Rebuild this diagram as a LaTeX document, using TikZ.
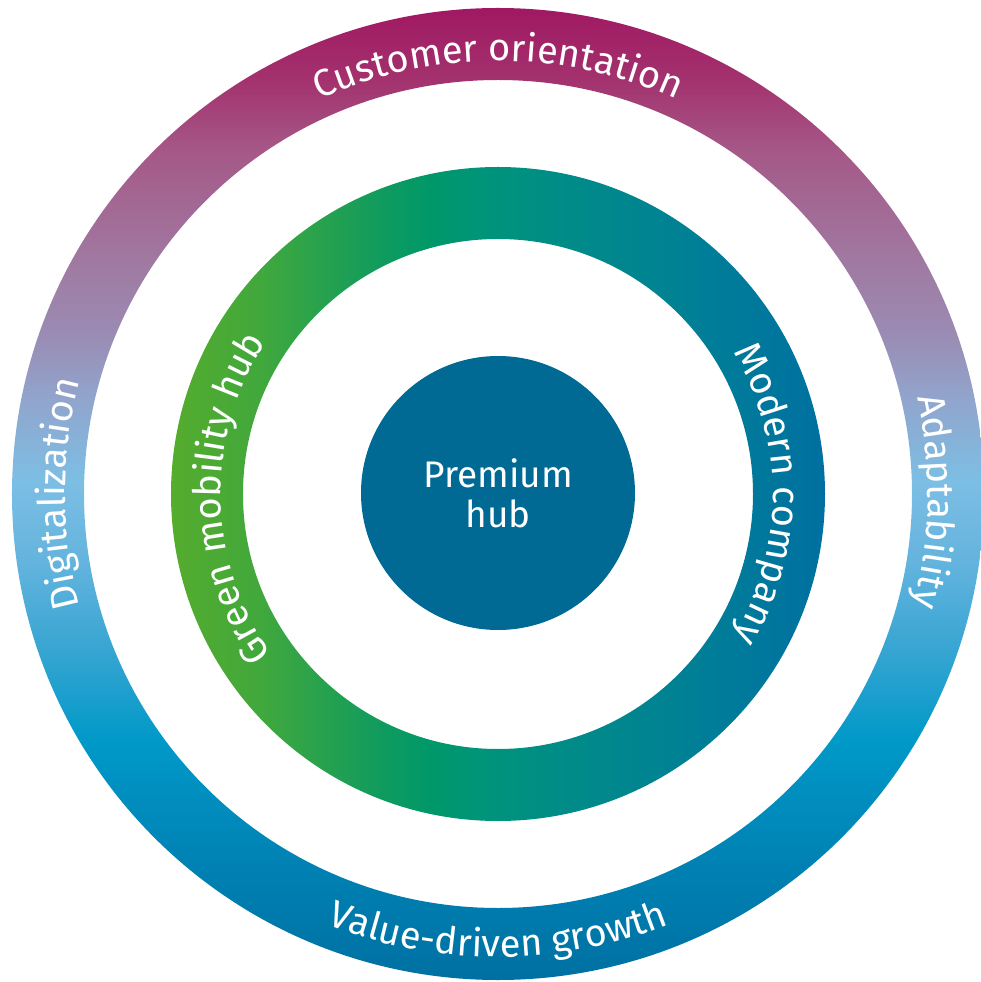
\documentclass[tikz,border=0pt]{standalone}
\usepackage{fontspec}
\setmainfont{Fira Sans}
\usetikzlibrary{decorations.text}

\definecolor{hubblue}{RGB}{0,106,148}
% outer ring stops (bottom -> top)
\definecolor{oa}{RGB}{0,112,162}
\definecolor{ob}{RGB}{0,130,180}
\definecolor{oc}{RGB}{0,153,200}
\definecolor{od}{RGB}{55,165,210}
\definecolor{oe}{RGB}{100,180,222}
\definecolor{of}{RGB}{125,190,228}
\definecolor{og}{RGB}{145,165,205}
\definecolor{oh}{RGB}{155,138,178}
\definecolor{oi}{RGB}{160,122,162}
\definecolor{oj}{RGB}{165,88,135}
\definecolor{ok}{RGB}{163,50,110}
\definecolor{ol}{RGB}{160,24,98}
% middle ring stops (left -> right)
\definecolor{ma}{RGB}{85,172,45}
\definecolor{mb}{RGB}{65,168,60}
\definecolor{mc}{RGB}{15,155,95}
\definecolor{md}{RGB}{0,152,105}
\definecolor{me}{RGB}{0,148,122}
\definecolor{mf}{RGB}{0,140,135}
\definecolor{mg}{RGB}{0,132,145}
\definecolor{mh}{RGB}{0,122,155}
\definecolor{mi}{RGB}{0,112,160}

\pgfdeclareverticalshading{outerring}{100bp}{%
  color(0bp)=(oa); color(25bp)=(oa); color(31.17bp)=(ob); color(37.35bp)=(oc);
  color(41.98bp)=(od); color(46.6bp)=(oe); color(50.72bp)=(of); color(54.84bp)=(og);
  color(58.44bp)=(oh); color(61.78bp)=(oi); color(67.7bp)=(oj); color(71.3bp)=(ok);
  color(75bp)=(ol); color(100bp)=(ol)}
\pgfdeclarehorizontalshading{middlering}{100bp}{%
  color(0bp)=(ma); color(25bp)=(ma); color(31.8bp)=(mb); color(41.2bp)=(mc);
  color(44.8bp)=(md); color(48.9bp)=(me); color(54.7bp)=(mf); color(61.6bp)=(mg);
  color(68.5bp)=(mh); color(75bp)=(mi); color(100bp)=(mi)}

\newcommand\ringtextfont{\fontsize{38}{44}\selectfont}
\newcommand\hubtextfont{\fontsize{37}{40}\selectfont}

\tikzset{
  ringlabel/.style={decorate, decoration={text along path,
      text={|\ringtextfont|#1}, text color=white, text align=center}},
  hubnode/.style={circle, fill=hubblue, minimum size=274pt, inner sep=0pt,
      text=white, align=center, font=\hubtextfont},
}

\begin{document}
\begin{tikzpicture}[x=1pt,y=1pt]
\useasboundingbox (-498,-488) rectangle (482,494);
% outer ring
\shade[shading=outerring, even odd rule] (0,0) circle[radius=486] (0,0) circle[radius=414];
% middle ring
\shade[shading=middlering, even odd rule] (0,0) circle[radius=327] (0,0) circle[radius=255];
% hub
\node[hubnode] (hub) at (0,1) {Premium\\hub};
% outer ring labels
\path[ringlabel={Customer orientation}] (150:433) arc[start angle=150, end angle=30, radius=433];
\path[ringlabel={Digitalization}] (215:433) arc[start angle=215, end angle=145, radius=433];
\path[ringlabel={Adaptability}] (34:430) arc[start angle=34, end angle=-36, radius=430];
\path[ringlabel={Value-driven growth}] (215:463) arc[start angle=215, end angle=325, radius=463];
% middle ring labels
\path[ringlabel={Green mobility hub}] (241:277) arc[start angle=241, end angle=121, radius=277];
\path[ringlabel={Modern company}] (60:275) arc[start angle=60, end angle=-60, radius=275];
\end{tikzpicture}
\end{document}
